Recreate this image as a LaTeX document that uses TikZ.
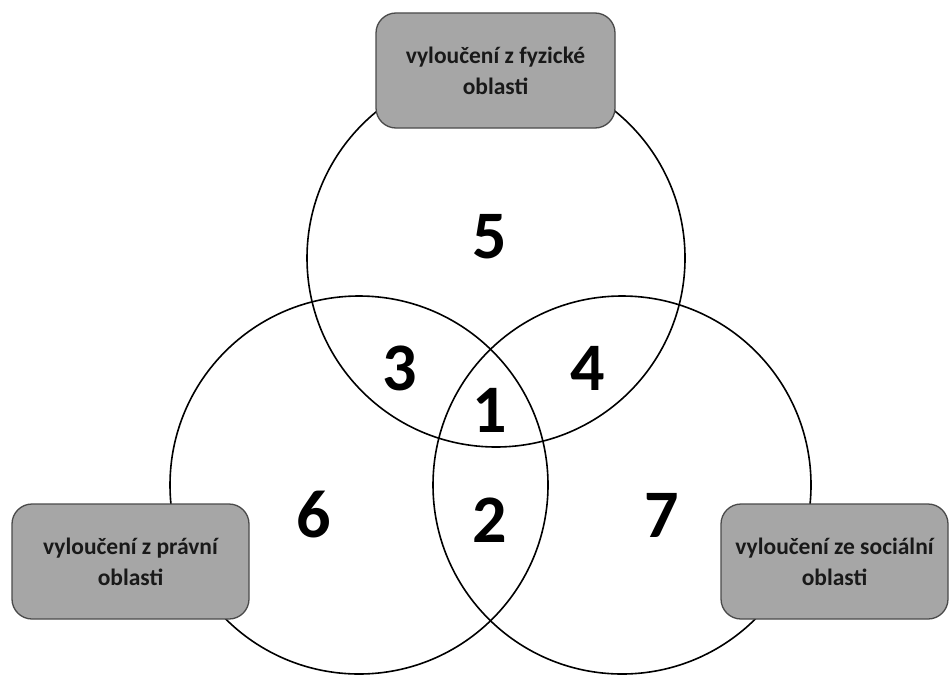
\documentclass[tikz,border=0pt]{standalone}
\usepackage{fontspec}
\setmainfont{Carlito}
\definecolor{boxfill}{HTML}{A6A6A6}
\definecolor{boxline}{HTML}{4A4A4A}
\begin{document}
\begin{tikzpicture}[x=1pt,y=-1pt,
  ring/.style={draw=black, line width=1.6pt, circle, minimum size=378pt, inner sep=0pt},
  labelbox/.style={draw=boxline, fill=boxfill, line width=1.3pt, rounded corners=20pt,
    minimum height=115pt, align=center, inner sep=0pt,
    font=\fontsize{23.5}{31}\selectfont\bfseries, text=black!90},
  num/.style={inner sep=0pt, font=\fontsize{68}{68}\selectfont\bfseries}]
\useasboundingbox (0,0) rectangle (949,674);
\node[ring] (top) at (496,258) {};
\node[ring] (left) at (359,485) {};
\node[ring] (right) at (622,485) {};
\node[labelbox, minimum width=239pt] (bfyz) at (495.5,70.5) {vyloučení z fyzické\\oblasti};
\node[labelbox, minimum width=237pt] (bpra) at (130.5,561.5) {vyloučení z právní\\oblasti};
\node[labelbox, minimum width=227pt] (bsoc) at (834.5,561.5) {vyloučení ze sociální\\oblasti};
\node[num] (n5) at (490,237) {5};
\node[num] (n3) at (400,368) {3};
\node[num] (n4) at (588,368) {4};
\node[num] (n1) at (490,410) {1};
\node[num] (n6) at (314,515) {6};
\node[num] (n2) at (490,520) {2};
\node[num] (n7) at (662,515) {7};
\end{tikzpicture}
\end{document}
